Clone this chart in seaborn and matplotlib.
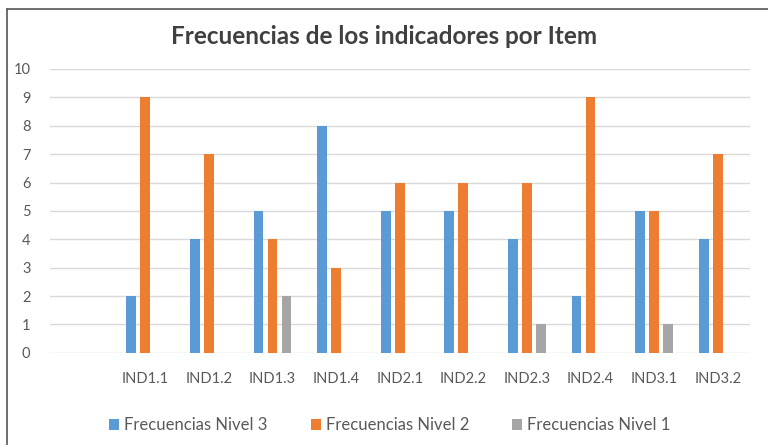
import pandas as pd
import matplotlib.pyplot as plt
import seaborn as sns
from matplotlib.lines import Line2D

# -------------------------------
# Data
# -------------------------------
items = ["IND1.1", "IND1.2", "IND1.3", "IND1.4", "IND2.1",
         "IND2.2", "IND2.3", "IND2.4", "IND3.1", "IND3.2"]
nivel3 = [2, 4, 5, 8, 5, 5, 4, 2, 5, 4]
nivel2 = [9, 7, 4, 3, 6, 6, 6, 9, 5, 7]
nivel1 = [0, 0, 2, 0, 0, 0, 1, 0, 1, 0]
series = ["Frecuencias Nivel 3", "Frecuencias Nivel 2", "Frecuencias Nivel 1"]
yticks = list(range(0, 11))

df = pd.DataFrame({
    "Item": items * 3,
    "Serie": [series[0]] * 10 + [series[1]] * 10 + [series[2]] * 10,
    "Valor": nivel3 + nivel2 + nivel1,
})

# -------------------------------
# Plot
# -------------------------------
sns.set_style("white")
plt.rcParams["font.family"] = ["Lato", "DejaVu Sans"]

palette = ["#5B9BD5", "#ED7D31", "#A5A5A5"]
fig = plt.figure(figsize=(7.68, 4.45), dpi=100)
ax = fig.add_axes([0.065, 0.207, 0.911, 0.638])

sns.barplot(data=df, x="Item", y="Valor", hue="Serie", hue_order=series,
            order=[" "] + items, palette=palette, width=0.66, gap=0.3,
            linewidth=0, saturation=1, ax=ax)

ax.set_ylim(0, 10)
ax.set_yticks(yticks)
ax.grid(axis="y", color="#D9D9D9", linewidth=1)
ax.set_axisbelow(True)
for s in ax.spines.values():
    s.set_visible(False)
ax.tick_params(axis="both", length=0, colors="#595959", labelsize=10.5)
ax.tick_params(axis="x", pad=14)
ax.tick_params(axis="y", pad=14)
ax.set_xlabel("")
ax.set_ylabel("")

sns.move_legend(ax, "center", bbox_to_anchor=(0.486, -0.255), ncol=3,
                frameon=False, title=None, fontsize=12, handlelength=0.6,
                handleheight=0.6, handletextpad=0.3, columnspacing=2.6,
                labelcolor="#595959")

fig.text(0.5, 0.918, "Frecuencias de los indicadores por Item",
         ha="center", va="center", fontsize=17.5, fontweight="bold", color="#404040")

# chart frame (as in the pasted screenshot)
fig.add_artist(Line2D([7 / 768, 1], [1 - 9 / 445, 1 - 9 / 445], color="#555555", lw=1.2))
fig.add_artist(Line2D([7 / 768, 7 / 768], [0, 1 - 9 / 445], color="#555555", lw=1.2))

fig.savefig("out.png", dpi=100)
